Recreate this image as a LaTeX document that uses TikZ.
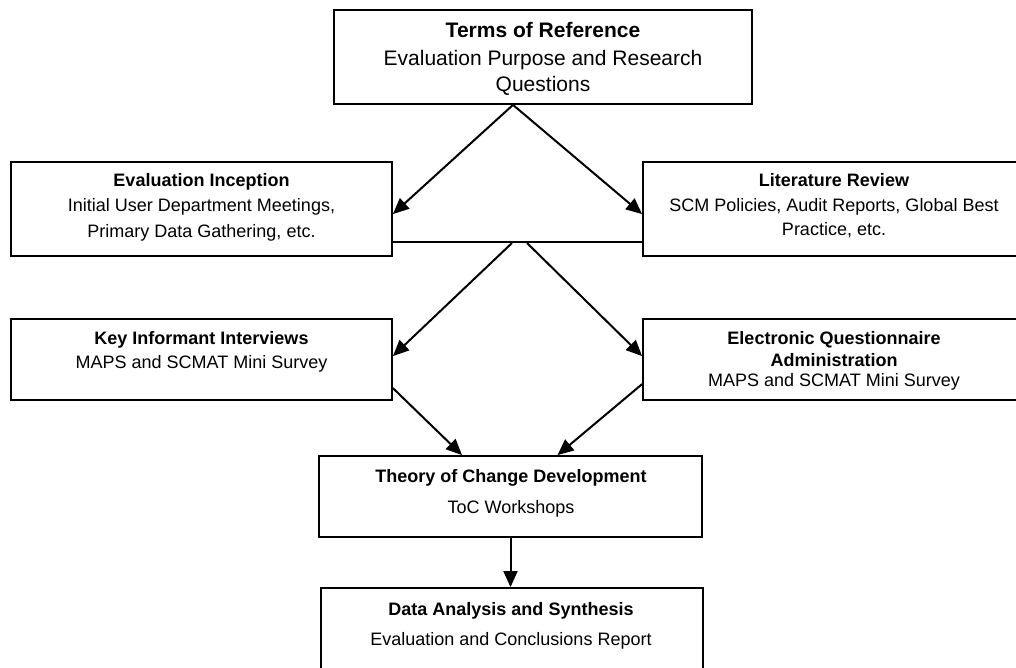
\documentclass[tikz,border=0pt]{standalone}
\usepackage{fontspec}
\setmainfont{Liberation Sans}
\usetikzlibrary{arrows.meta}
\begin{document}
\begin{tikzpicture}[x=1pt,y=-1pt,
  box/.style={draw=black,line width=1.8pt,inner sep=0pt},
  arr/.style={line width=2pt,-{Triangle[length=16pt,width=14pt]}},
  link/.style={line width=1.8pt},
  big/.style={font=\fontsize{21}{25}\selectfont,anchor=base,inner sep=0pt},
  bigb/.style={anchor=base,inner sep=0pt,font=\fontsize{21}{25}\selectfont\bfseries},
  txt/.style={font=\fontsize{18}{22}\selectfont,anchor=base,inner sep=0pt},
  txtb/.style={anchor=base,inner sep=0pt,font=\fontsize{18}{22}\selectfont\bfseries}]
\useasboundingbox (0,0) rectangle (1016,668);
\fill[white] (0,0) rectangle (1016,668);

% boxes
\node[box,minimum width=418pt,minimum height=94pt] (tor) at (543,57) {};
\node[box,minimum width=381pt,minimum height=94pt] (inc) at (201.5,209) {};
\node[box,minimum width=382pt,minimum height=94pt] (lit) at (834,209) {};
\node[box,minimum width=381pt,minimum height=81pt] (kii) at (201.5,359.5) {};
\node[box,minimum width=382pt,minimum height=81pt] (eqa) at (834,359.5) {};
\node[box,minimum width=383pt,minimum height=81pt] (toc) at (510.5,496.5) {};
\node[box,minimum width=382pt,minimum height=102pt] (dat) at (512,639) {};

% texts
\node[bigb] (tor1) at (543,38) {Terms of Reference};
\node[big] (tor2) at (543,66) {Evaluation Purpose and Research};
\node[big] (tor3) at (543,92) {Questions};

\node[txtb] (inc1) at (201.5,187) {Evaluation Inception};
\node[txt] (inc2) at (201.5,212) {Initial User Department Meetings,};
\node[txt] (inc3) at (201.5,237) {Primary Data Gathering, etc.};

\node[txtb] (lit1) at (834,187) {Literature Review};
\node[txt] (lit2) at (834,212) {SCM Policies, Audit Reports, Global Best};
\node[txt] (lit3) at (834,236) {Practice, etc.};

\node[txtb] (kii1) at (201.5,344) {Key Informant Interviews};
\node[txt] (kii2) at (201.5,368) {MAPS and SCMAT Mini Survey};

\node[txtb] (eqa1) at (834,344) {Electronic Questionnaire};
\node[txtb] (eqa2) at (834,366) {Administration};
\node[txt] (eqa3) at (834,386) {MAPS and SCMAT Mini Survey};

\node[txtb] (toc1) at (511,482) {Theory of Change Development};
\node[txt] (toc2) at (511,513) {ToC Workshops};

\node[txtb] (dat1) at (511,615) {Data Analysis and Synthesis};
\node[txt] (dat2) at (511,645) {Evaluation and Conclusions Report};

% connectors
\coordinate (j1) at (512,243);
\coordinate (j2) at (527,243);
\draw[arr] ([xshift=-30pt]tor.south) -- ([yshift=-53pt]inc.north east);
\draw[arr] ([xshift=-30pt]tor.south) -- ([yshift=-53pt]lit.north west);
\draw[link] ([yshift=-81pt]inc.north east) -- ([yshift=-81pt]lit.north west);
\draw[arr] (j1) -- ([yshift=-38pt]kii.north east);
\draw[arr] (j2) -- ([yshift=-38pt]eqa.north west);
\draw[arr] ([yshift=-70pt]kii.north east) -- ([xshift=-48.5pt]toc.north);
\draw[arr] ([yshift=-66pt]eqa.north west) -- ([xshift=47pt]toc.north);
\draw[arr] (toc.south) -- (toc.south |- dat.north);
\end{tikzpicture}
\end{document}
